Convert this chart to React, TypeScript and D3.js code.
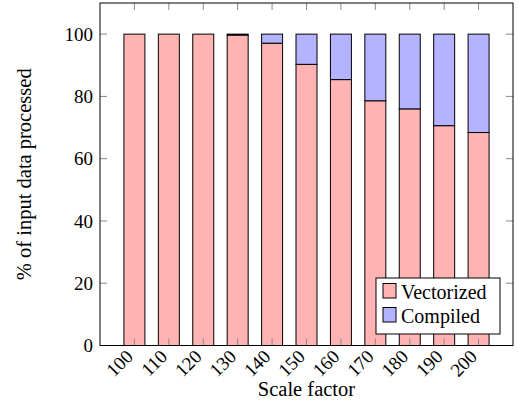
import React from 'react';
import * as d3 from 'd3';

const scaleFactors = [100, 110, 120, 130, 140, 150, 160, 170, 180, 190, 200];
const vectorized = [100, 100, 100, 99.7, 97.1, 90.3, 85.4, 78.6, 76.0, 70.6, 68.4];
const compiled = [0, 0, 0, 0.3, 2.9, 9.7, 14.6, 21.4, 24.0, 29.4, 31.6];
const yTicks = [0, 20, 40, 60, 80, 100];
const seriesNames = ['Vectorized', 'Compiled'];
const seriesColors = ['#ffb3b3', '#b3b3ff'];

const width = 518;
const height = 403;
const margin = { top: 3, right: 5, bottom: 57.5, left: 100 };
const font = '"Liberation Serif", "DejaVu Serif", serif';

const App: React.FC = () => {
  const x = d3.scaleLinear().domain([90, 210]).range([margin.left, width - margin.right]);
  const y = d3.scaleLinear().domain([0, 110]).range([height - margin.bottom, margin.top]);
  const barWidth = x(106.1) - x(100);
  const tickLen = 7;

  const rows = scaleFactors.map((s, i) => ({ s, Vectorized: vectorized[i], Compiled: compiled[i] }));
  const stacked = d3.stack<any>().keys(seriesNames)(rows);

  const x0 = margin.left;
  const x1 = width - margin.right;
  const y0 = height - margin.bottom;
  const y1 = margin.top;

  // legend box
  const lg = { x: 376, y: 278, w: 124, h: 56 };

  return (
    <div style={{ position: 'absolute', left: 0, top: 0 }}>
      <svg width={width} height={height} style={{ display: 'block', fontFamily: font }}>
        <rect x={0} y={0} width={width} height={height} fill="#fff" />

        {/* bars */}
        {stacked.map((layer, li) => (
          <g key={layer.key}>
            {layer.map((d, i) => {
              const h = y(d[0]) - y(d[1]);
              if (h <= 0) return null;
              return (
                <rect
                  key={i}
                  x={x(scaleFactors[i]) - barWidth / 2}
                  y={y(d[1])}
                  width={barWidth}
                  height={h}
                  fill={seriesColors[li]}
                  stroke="#000"
                  strokeWidth={1}
                />
              );
            })}
          </g>
        ))}

        {/* y ticks */}
        {yTicks.map((t) => (
          <g key={t}>
            <line x1={x0} x2={x0 + tickLen} y1={y(t)} y2={y(t)} stroke="#888" strokeWidth={1} />
            <line x1={x1} x2={x1 - tickLen} y1={y(t)} y2={y(t)} stroke="#888" strokeWidth={1} />
            <text x={x0 - 7} y={y(t)} dy="0.35em" textAnchor="end" fontSize={19} fill="#000">
              {t}
            </text>
          </g>
        ))}

        {/* x ticks */}
        {scaleFactors.map((s) => (
          <g key={s}>
            <line x1={x(s)} x2={x(s)} y1={y0} y2={y0 - tickLen} stroke="#888" strokeWidth={1} />
            <line x1={x(s)} x2={x(s)} y1={y1} y2={y1 + tickLen} stroke="#888" strokeWidth={1} />
            <text
              transform={`translate(${x(s) - 5},${y0 + 7.5}) rotate(-45)`}
              textAnchor="end"
              dy="0.35em"
              fontSize={19}
              fill="#000"
            >
              {s}
            </text>
          </g>
        ))}

        {/* frame */}
        <rect x={x0} y={y1} width={x1 - x0} height={y0 - y1} fill="none" stroke="#000" strokeWidth={1} />

        {/* legend */}
        <rect x={lg.x} y={lg.y} width={lg.w} height={lg.h} fill="#fff" stroke="#000" strokeWidth={1} />
        {seriesNames.map((name, i) => (
          <g key={name}>
            <rect x={lg.x + 7} y={lg.y + 5.5 + i * 24} width={13} height={14.5} fill={seriesColors[i]} stroke="#000" strokeWidth={1} />
            <text x={lg.x + 25} y={lg.y + 20.5 + i * 24} fontSize={20} fill="#000">
              {name}
            </text>
          </g>
        ))}

        {/* axis labels */}
        <text x={(x0 + x1) / 2} y={396} textAnchor="middle" fontSize={20.5} fill="#000">
          Scale factor
        </text>
        <text
          transform={`translate(31,${(y0 + y1) / 2}) rotate(-90)`}
          textAnchor="middle"
          fontSize={20.5}
          fill="#000"
        >
          % of input data processed
        </text>
      </svg>
    </div>
  );
};

export default App;
